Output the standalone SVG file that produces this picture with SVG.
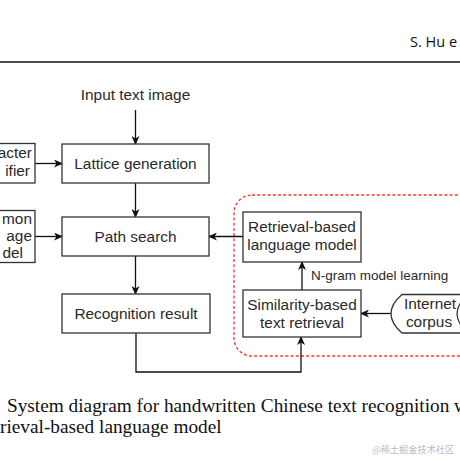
<svg xmlns="http://www.w3.org/2000/svg" width="460" height="460" viewBox="0 0 460 460">
<defs>
<marker id="arr" markerWidth="10" markerHeight="8" refX="8" refY="4" orient="auto" markerUnits="userSpaceOnUse">
<path d="M0,0 L9,4 L0,8 L2.5,4 Z" fill="#111"/>
</marker>
<style>
.box{fill:#fff;stroke:#333;stroke-width:1.3}
.t{font-family:"Liberation Sans",Arial,sans-serif;font-size:15.4px;fill:#2a2a2a;text-anchor:middle}
.tl{font-family:"Liberation Sans",Arial,sans-serif;font-size:15.4px;fill:#2a2a2a;text-anchor:end}
.c{fill:none;stroke:#111;stroke-width:1.3}
.cap{font-family:"Liberation Serif","Times New Roman",serif;font-size:19.3px;fill:#111}
</style>
</defs>
<rect width="460" height="460" fill="#fff"/>
<g id="header">
<text x="410" y="47" font-family="'Open Sans','Liberation Sans',sans-serif" font-size="14.5" fill="#111">S. Hu e</text>
<line x1="0" y1="62" x2="460" y2="62" stroke="#111" stroke-width="1.6"/>
</g>
<rect id="group-frame" x="234" y="195" width="260" height="161" rx="18" fill="none" stroke="#f33" stroke-width="1.3" stroke-dasharray="3 2.2"/>
<g id="connectors">
<line class="c" x1="135.5" y1="110" x2="135.5" y2="144" marker-end="url(#arr)"/>
<line class="c" x1="135.5" y1="183" x2="135.5" y2="217" marker-end="url(#arr)"/>
<line class="c" x1="135.5" y1="256" x2="135.5" y2="294" marker-end="url(#arr)"/>
<line class="c" x1="35" y1="163.5" x2="62" y2="163.5" marker-end="url(#arr)"/>
<line class="c" x1="35" y1="236.5" x2="62" y2="236.5" marker-end="url(#arr)"/>
<line class="c" x1="243" y1="236.5" x2="209" y2="236.5" marker-end="url(#arr)"/>
<line class="c" x1="302" y1="290" x2="302" y2="262" marker-end="url(#arr)"/>
<line class="c" x1="391" y1="313.5" x2="361" y2="313.5" marker-end="url(#arr)"/>
<polyline class="c" points="136,333 136,372 301,372 301,337" marker-end="url(#arr)"/>
<text x="311" y="280" font-family="'Liberation Sans',Arial,sans-serif" font-size="13.5" fill="#2a2a2a">N-gram model learning</text>
</g>
<g id="input">
<text class="t" x="135.5" y="100">Input text image</text>
</g>
<g id="character-classifier">
<rect class="box" x="-45" y="143.5" width="80" height="39.5"/>
<text class="tl" x="32" y="158">acter</text>
<text class="tl" x="30" y="176">ifier</text>
</g>
<g id="lattice">
<rect class="box" x="62" y="144" width="147" height="39"/>
<text class="t" x="135.5" y="168.5">Lattice generation</text>
</g>
<g id="common-lm">
<rect class="box" x="-45" y="210.5" width="80" height="52"/>
<text class="tl" x="32" y="224">mon</text>
<text class="tl" x="32" y="241">age</text>
<text class="tl" x="23" y="257.5">del</text>
</g>
<g id="path-search">
<rect class="box" x="62" y="217" width="147" height="39"/>
<text class="t" x="135.5" y="242">Path search</text>
</g>
<g id="recognition">
<rect class="box" x="62" y="294" width="148" height="39"/>
<text class="t" x="136" y="319">Recognition result</text>
</g>
<g id="retrieval-lm">
<rect class="box" x="243" y="212" width="118" height="50"/>
<text class="t" x="302" y="232">Retrieval-based</text>
<text class="t" x="302" y="250">language model</text>
</g>
<g id="similarity">
<rect class="box" x="243" y="290" width="118" height="47"/>
<text class="t" x="302" y="310">Similarity-based</text>
<text class="t" x="302" y="328">text retrieval</text>
</g>
<g id="internet-corpus">
<path class="box" d="M402,294.5 L468,294.5 Q446,313.5 468,333 L402,333 Q380,313.5 402,294.5 Z"/>
<text class="t" x="430" y="308.5">Internet</text>
<text class="t" x="429" y="327">corpus</text>
</g>
<g id="caption">
<text class="cap" x="7" y="412">System diagram for handwritten Chinese text recognition w</text>
<text class="cap" x="0" y="433">rieval-based language model</text>
<text x="372" y="453" font-family="'Noto Sans CJK SC',sans-serif" font-size="9.2" fill="#bbb">@稀土掘金技术社区</text>
</g>
</svg>
